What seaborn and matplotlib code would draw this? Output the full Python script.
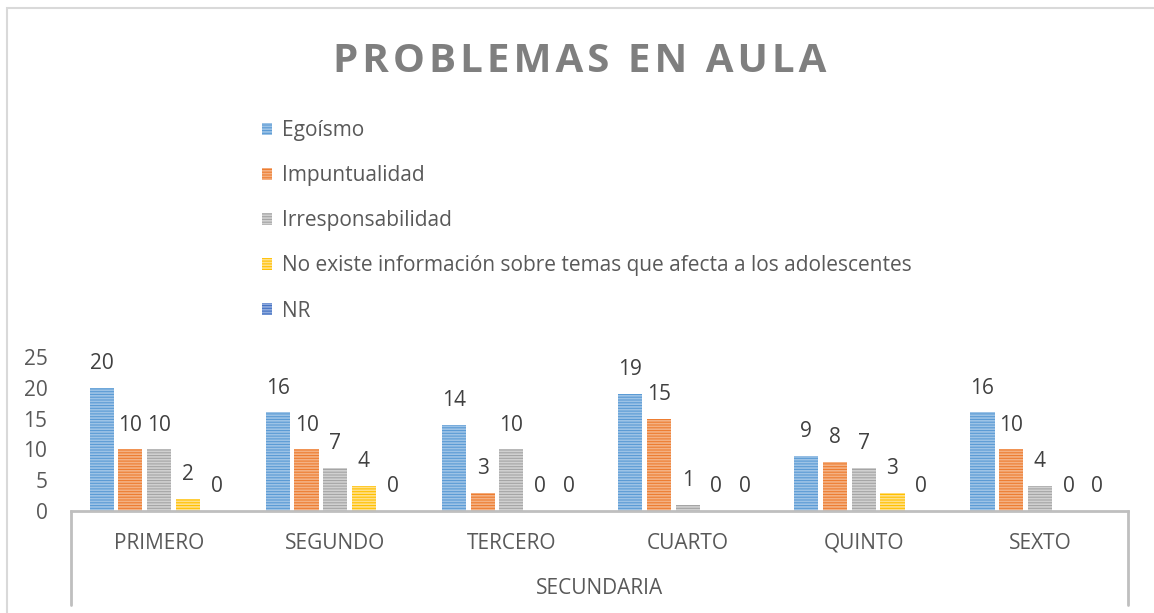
import pandas as pd
import matplotlib
matplotlib.use("Agg")
import matplotlib.pyplot as plt
from matplotlib.patches import Rectangle, Patch
import seaborn as sns

# Data
grades = ["PRIMERO", "SEGUNDO", "TERCERO", "CUARTO", "QUINTO", "SEXTO"]
series_names = [
    "Egoísmo",
    "Impuntualidad",
    "Irresponsabilidad",
    "No existe información sobre temas que afecta a los adolescentes",
    "NR",
]
egoismo = [20, 16, 14, 19, 9, 16]
impuntualidad = [10, 10, 3, 15, 8, 10]
irresponsabilidad = [10, 7, 10, 1, 7, 4]
no_existe = [2, 4, 0, 0, 3, 0]
nr = [0, 0, 0, 0, 0, 0]
y_ticks = [0, 5, 10, 15, 20, 25]

colors = ["#5B9BD5", "#ED7D31", "#A5A5A5", "#FFC000", "#4472C4"]
stripe_colors = ["#9DC3E6", "#F4B183", "#D0D0D0", "#FFE08A", "#8FAADC"]
text_color = "#595959"

sns.set_theme(style="white")
plt.rcParams["font.family"] = ["Open Sans", "DejaVu Sans"]
plt.rcParams["hatch.linewidth"] = 1.2

# Long format table for seaborn
rows = []
for name, vals in zip(series_names, [egoismo, impuntualidad, irresponsabilidad, no_existe, nr]):
    for g, v in zip(grades, vals):
        rows.append({"grado": g, "serie": name, "valor": v})
df = pd.DataFrame(rows)

W, H = 1154, 613
fig = plt.figure(figsize=(W / 100, H / 100), dpi=100)
ax_left, ax_right, ax_bottom, ax_top = 71, 1128, 511, 357
ax = fig.add_axes([ax_left / W, (H - ax_bottom) / H,
                   (ax_right - ax_left) / W, (ax_bottom - ax_top) / H])

sns.barplot(data=df, x="grado", y="valor", hue="serie", order=grades,
            hue_order=series_names, palette=colors, width=0.815, gap=0.16,
            saturation=1, legend=False, ax=ax)

# striped look of the bars
for cont, sc in zip(ax.containers, stripe_colors):
    for bar in cont:
        bar.set_hatch("------")
        bar.set_edgecolor(sc)
        bar.set_linewidth(0)
    ax.bar_label(cont, fmt="%g", padding=10, fontsize=15, color="#404040")

ax.set_xlim(-0.5, len(grades) - 0.5)
ax.set_ylim(0, 25)
ax.set_yticks(y_ticks)
ax.set_xlabel("")
ax.set_ylabel("")
for s in ["left", "right", "top"]:
    ax.spines[s].set_visible(False)
ax.spines["bottom"].set_color("#BFBFBF")
ax.spines["bottom"].set_linewidth(2)
ax.tick_params(axis="x", length=0, pad=15.5, labelsize=15, labelcolor=text_color)
ax.tick_params(axis="y", length=0, pad=17, labelsize=15, labelcolor=text_color)

# category box lines below the axis
box_bottom = (ax_bottom - 605) / (ax_bottom - ax_top)
for xpos in [0, 1]:
    ax.plot([xpos, xpos], [0, box_bottom], transform=ax.transAxes,
            color="#BFBFBF", lw=2, clip_on=False)
ax.text(0.5, (ax_bottom - 588) / (ax_bottom - ax_top), "SECUNDARIA",
        transform=ax.transAxes, ha="center", va="center", fontsize=15,
        color=text_color)

# outer chart border
fig.patches.append(Rectangle((7 / W, -0.05), 1.2, (H - 8) / H + 0.05,
                             transform=fig.transFigure, fill=False,
                             edgecolor="#D9D9D9", lw=1.5))

# title with letter spacing
fig.text(580 / W, (H - 61) / H, "\u200a".join("PROBLEMAS EN AULA"),
         ha="center", va="center", fontsize=29, fontweight="bold",
         color="#7F7F7F")

handles = [Patch(facecolor=c, edgecolor=sc, hatch="------", linewidth=0)
           for c, sc in zip(colors, stripe_colors)]
fig.legend(handles, series_names, loc="upper left",
           bbox_to_anchor=(262 / W, (H - 120) / H), frameon=False,
           fontsize=15, labelcolor=text_color, labelspacing=1.16,
           handlelength=0.5, handleheight=0.5, handletextpad=0.45,
           borderpad=0, borderaxespad=0)

fig.savefig("out.png", dpi=100)
